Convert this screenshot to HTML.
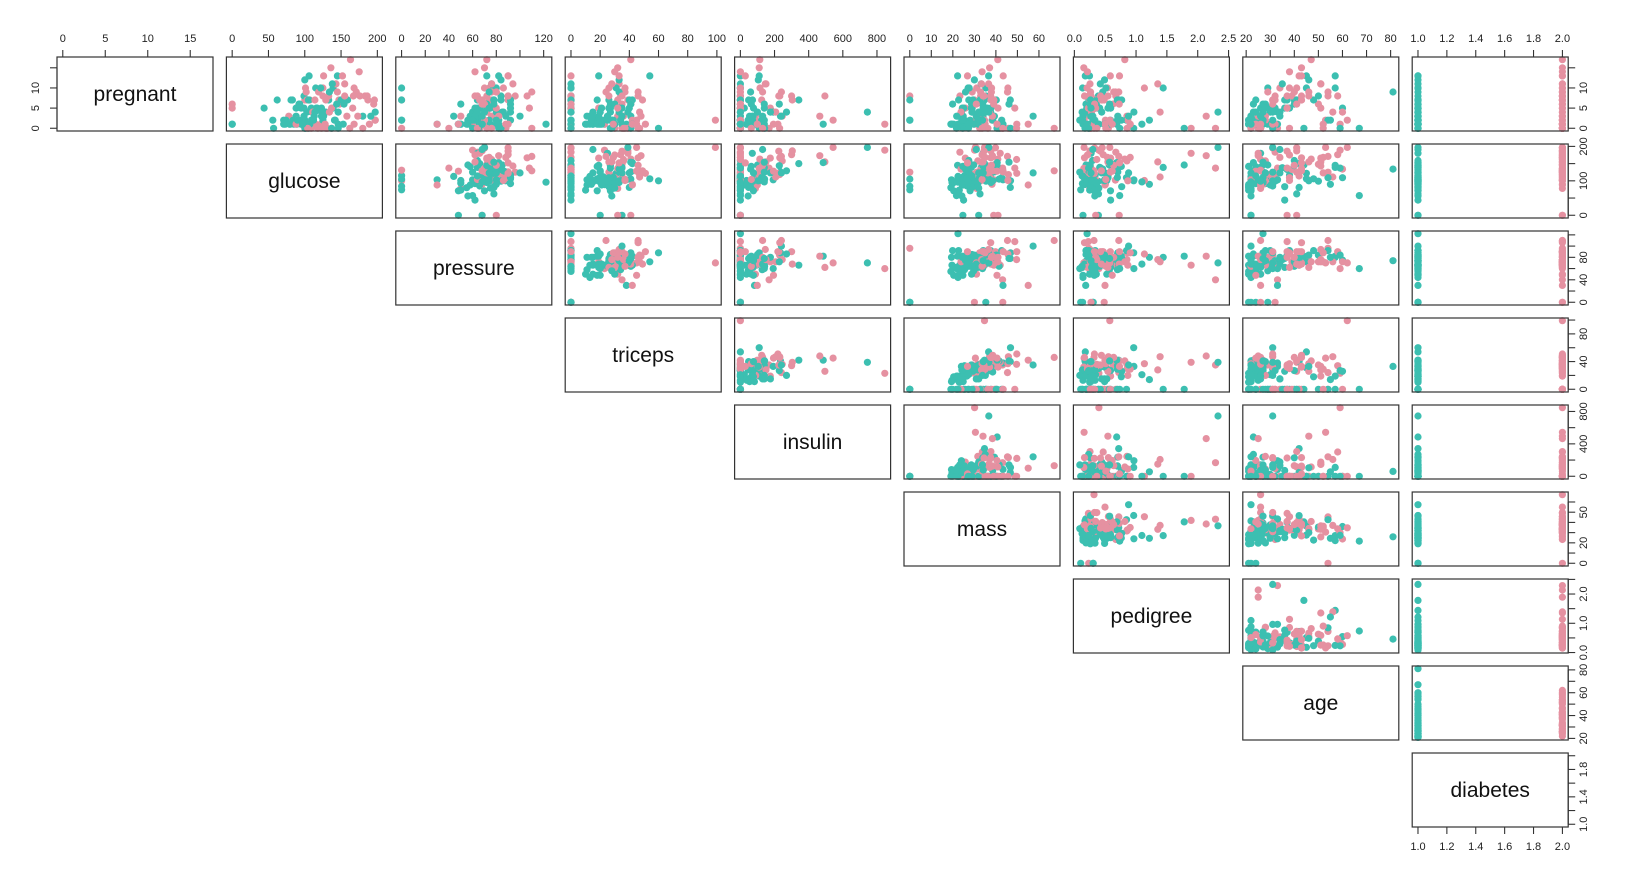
<!DOCTYPE html>
<html><head><meta charset="utf-8"><style>
html,body{margin:0;padding:0;background:#fff;}
svg{display:block;font-family:"Liberation Sans",Arial,sans-serif;}
</style></head><body>
<svg id="chart" width="1626" height="884" viewBox="0 0 1626 884" xmlns="http://www.w3.org/2000/svg"></svg>
<script>
const varNames = ["pregnant","glucose","pressure","triceps","insulin","mass","pedigree","age","diabetes"];
const pregnant = [6,1,8,1,0,5,3,10,2,8,4,10,10,1,5,7,0,7,1,1,3,8,7,9,11,10,7,1,13,5,5,3,3,6,10,4,11,9,2,4,3,7,7,9,7,0,1,2,7,7,1,1,5,8,7,1,7,0,0,0,2,8,5,2,7,5,0,2,1,4,2,5,13,4,1,1,7,5,0,2,3,2,7,0,5,2,13,2,15,1,1,4,7,4,2,6,2,1,6,1,17,2,9,6,0,1,14,8,1,3,0,1,6,12,1,0,5,2,7,2,3,10,0,1,4,11,8,3,9,0,2,1,13,0,1,6,4,5,3,8];
const glucose = [148,85,183,89,137,116,78,115,197,125,110,168,139,189,166,100,118,107,103,115,126,99,196,119,143,125,147,97,145,117,109,158,88,92,122,103,138,102,90,111,180,133,106,171,159,180,146,71,103,105,103,101,88,176,150,73,187,100,146,105,84,133,44,141,114,99,109,109,95,146,100,139,126,129,79,0,62,95,131,112,113,74,83,101,137,110,106,100,136,107,80,123,81,134,142,144,92,71,93,122,163,197,134,0,129,96,175,155,153,173,123,88,195,100,0,57,0,56,129,90,191,101,137,168,197,155,186,99,145,162,125,128,152,104,97,154,114,123,123,167];
const pressure = [72,66,64,66,40,74,50,0,70,96,92,74,80,60,72,0,84,74,30,70,88,84,90,80,94,70,76,66,82,92,75,76,58,92,78,60,76,76,68,72,64,84,92,110,64,66,56,70,66,0,80,50,66,90,66,50,68,88,82,64,0,72,62,58,66,74,88,92,66,85,66,64,90,86,75,48,78,72,0,66,44,0,78,65,108,74,72,68,70,68,55,80,78,72,82,72,62,48,50,90,72,70,74,68,110,122,62,62,82,82,72,30,70,84,68,60,80,56,68,80,68,86,84,88,70,76,90,62,80,76,60,48,90,64,68,78,64,74,100,106];
const triceps = [35,29,0,23,35,0,32,0,45,0,0,0,0,23,19,0,47,0,38,30,41,0,0,35,33,26,0,15,19,0,26,36,11,0,31,33,0,37,42,47,25,0,18,24,0,39,0,27,32,0,11,15,21,34,42,10,39,60,0,41,0,0,0,34,0,27,30,0,13,27,20,35,0,20,30,20,0,33,0,22,13,0,26,28,0,29,54,25,32,19,0,15,40,0,18,27,28,18,30,51,41,99,33,41,46,0,30,26,42,48,0,42,0,33,35,0,32,28,49,14,15,37,27,29,39,28,35,19,46,36,20,45,33,37,21,41,0,40,35,46];
const insulin = [0,0,0,94,168,0,88,0,543,0,0,0,0,846,175,0,230,0,83,96,235,0,0,0,146,115,0,140,110,0,0,245,54,0,0,192,0,0,0,207,70,0,0,240,0,0,0,0,0,0,82,36,23,300,342,0,304,110,0,142,0,0,0,128,0,0,0,0,38,100,90,140,0,270,0,0,0,0,0,0,0,0,71,0,0,125,0,71,110,0,0,176,48,0,64,228,0,76,64,220,114,0,60,0,130,0,0,495,485,465,0,99,0,105,0,0,0,45,125,55,130,0,0,0,744,150,225,74,130,0,140,194,29,64,0,140,0,77,240,231];
const mass = [33.6,26.6,23.3,28.1,43.1,25.6,31.0,35.3,30.5,0,37.6,38.0,27.1,30.1,25.8,30.0,45.8,29.6,43.3,34.6,39.3,35.4,39.8,29.0,36.6,31.1,39.4,23.2,22.2,34.1,36.0,31.6,24.8,19.9,27.6,24.0,33.2,32.9,38.2,37.1,34.0,40.2,22.7,45.4,27.4,42.0,29.7,28.0,39.1,0,19.4,24.2,24.4,33.7,34.7,23.0,37.7,46.8,40.5,41.5,0,32.9,25.0,25.4,32.8,29.0,32.5,42.7,19.6,28.9,32.9,28.6,43.4,35.1,32.0,24.7,32.6,37.7,43.2,25.0,22.4,0,29.3,24.6,48.8,32.4,36.6,38.5,37.1,26.5,19.1,32.0,46.7,23.8,24.7,33.9,31.6,20.4,28.7,49.7,40.9,34.7,25.9,39.0,67.1,22.4,33.6,34.0,40.6,38.4,36.3,55.0,30.9,30.0,32.0,21.7,41.0,24.2,38.5,24.4,30.9,45.6,27.3,35.0,36.7,33.3,34.5,21.8,37.9,49.6,33.8,40.5,26.8,33.6,27.2,46.1,28.9,34.1,57.3,37.6];
const pedigree = [0.627,0.351,0.672,0.167,2.288,0.201,0.248,0.134,0.158,0.232,0.191,0.537,1.441,0.398,0.587,0.484,0.551,0.254,0.183,0.529,0.704,0.388,0.451,0.263,0.254,0.205,0.257,0.487,0.245,0.337,0.546,0.851,0.267,0.188,0.512,0.966,0.420,0.665,0.503,1.390,0.271,0.696,0.235,0.721,0.294,1.893,0.564,0.586,0.344,0.305,0.491,0.526,0.342,0.467,0.718,0.248,0.254,0.962,1.781,0.173,0.304,0.270,0.587,0.699,0.258,0.203,0.855,0.845,0.334,0.189,0.867,0.411,0.583,0.231,0.396,0.140,0.391,0.370,0.270,0.307,0.140,0.102,0.767,0.237,0.227,0.698,0.178,0.324,0.153,0.165,0.258,0.443,0.261,0.277,0.761,0.255,0.130,0.323,0.356,0.325,0.817,0.575,0.460,0.727,0.319,0.207,0.212,0.543,0.687,2.137,0.258,0.496,0.328,0.488,0.389,0.735,0.346,0.332,0.439,1.216,0.299,1.136,0.231,0.905,2.329,1.353,0.423,0.279,0.637,0.364,0.088,0.613,0.731,0.510,1.095,0.571,0.126,0.269,0.880,0.165];
const age = [50,31,32,21,33,30,26,29,53,54,30,34,57,59,51,32,31,31,33,32,27,50,41,29,51,41,43,22,57,38,60,28,22,28,45,33,35,46,27,56,26,37,48,54,40,25,29,22,31,24,22,26,30,58,42,21,41,31,44,22,21,39,36,24,42,32,38,54,25,27,28,26,42,23,22,22,41,27,26,24,22,22,36,22,37,27,45,26,43,24,21,34,42,60,21,40,24,22,23,31,47,62,81,41,26,27,38,46,23,25,52,26,31,46,22,67,37,22,43,55,34,38,59,52,31,51,37,26,40,26,31,24,43,22,22,27,24,28,22,43];
const outcome = [1,0,1,0,1,0,1,0,1,1,0,1,0,1,1,1,1,1,0,1,0,0,1,1,1,1,1,0,0,0,0,1,0,0,0,0,0,1,1,1,0,0,0,1,0,1,0,0,1,0,0,0,0,1,0,0,1,0,0,0,0,1,0,0,1,0,1,0,0,0,1,0,1,0,0,0,0,0,1,0,0,0,0,0,1,0,0,0,1,0,0,0,0,1,0,0,0,0,0,1,1,1,0,1,1,0,1,1,0,1,1,1,1,0,0,0,1,0,1,0,0,1,0,1,0,1,1,0,1,1,0,1,1,1,0,0,0,0,0,1];
// full-dataset value ranges (min, max) per variable
const rangeMin = [0,0,0,0,0,0,0.078,21,1];
const rangeMax = [17,199,122,99,846,67.1,2.42,81,2];
// axis ticks
const ticks = [[0,5,10,15],[0,50,100,150,200],[0,20,40,60,80,100,120],[0,20,40,60,80,100],[0,200,400,600,800],[0,10,20,30,40,50,60],[0,0.5,1,1.5,2,2.5],[20,30,40,50,60,70,80],[1,1.2,1.4,1.6,1.8,2]];
const topLabels = [["0","5","10","15"],["0","50","100","150","200"],["0","20","40","60","80","","120"],["0","20","40","60","80","100"],["0","200","400","600","800"],["0","10","20","30","40","50","60"],["0.0","0.5","1.0","1.5","2.0","2.5"],["20","30","40","50","60","70","80"],["1.0","1.2","1.4","1.6","1.8","2.0"]];
const sideLabels = [["0","5","10",""],["0","","100","","200"],["0","","40","","80","",""],["0","","40","","80",""],["0","","400","","800"],["0","","20","","","50",""],["0.0","","1.0","","2.0",""],["20","","40","","60","","80"],["1.0","","1.4","","1.8",""]];

const NS = "http://www.w3.org/2000/svg";
const svg = document.getElementById("chart");
const X0 = 57, STEPX = 169.4, PW = 156, Y0 = 57, STEPY = 87.0, PH = 74;
const TEAL = "#3cbfb1", PINK = "#e591a1";
const diabetes = outcome.map(o => o + 1);
const cols = [pregnant, glucose, pressure, triceps, insulin, mass, pedigree, age, diabetes];

function mk(tag, attrs, parent) {
  const e = document.createElementNS(NS, tag);
  for (const k in attrs) e.setAttribute(k, attrs[k]);
  (parent || svg).appendChild(e);
  return e;
}
function lo(v) { return rangeMin[v] - 0.04 * (rangeMax[v] - rangeMin[v]); }
function hi(v) { return rangeMax[v] + 0.04 * (rangeMax[v] - rangeMin[v]); }
function sx(v, val, c) { return X0 + c * STEPX + (val - lo(v)) / (hi(v) - lo(v)) * PW; }
function sy(v, val, r) { return Y0 + r * STEPY + PH - (val - lo(v)) / (hi(v) - lo(v)) * PH; }

for (let r = 0; r < 9; r++) {
  for (let c = r; c < 9; c++) {
    const px = X0 + c * STEPX, py = Y0 + r * STEPY;
    const g = mk("g", {});
    
    
    if (r === c) {
      const t = mk("text", {x: px + PW / 2, y: py + PH / 2 + 7, "text-anchor": "middle", "font-size": "21", fill: "#111"}, g);
      t.textContent = varNames[r];
      
      
    } else {
      const xs = cols[c], ys = cols[r];
      for (let i = 0; i < xs.length; i++) {
        const pt = mk("circle", {cx: sx(c, xs[i], c).toFixed(1), cy: sy(r, ys[i], r).toFixed(1), r: 3.6, fill: outcome[i] ? PINK : TEAL}, g);
        
        
      }
    }
    const box = mk("rect", {x: px, y: py, width: PW, height: PH, fill: "none", stroke: "#333", "stroke-width": 1.2}, g);
    
    
  }
}

function axisH(v, c, yLine, dir, labelY, labels, name) {
  const g = mk("g", {stroke: "#333", "stroke-width": 1.1});
  
  
  const tk = ticks[v];
  mk("line", {x1: sx(v, tk[0], c), x2: sx(v, tk[tk.length - 1], c), y1: yLine, y2: yLine}, g);
  tk.forEach((t, i) => {
    const x = sx(v, t, c);
    mk("line", {x1: x, x2: x, y1: yLine, y2: yLine + dir * 7}, g);
    if (labels[i]) {
      const tx = mk("text", {x: x, y: labelY, "text-anchor": "middle", "font-size": "11", fill: "#222", stroke: "none"}, g);
      tx.textContent = labels[i];
      
      
    }
  });
}
function axisV(v, r, xLine, dir, labelX, labels, name) {
  const g = mk("g", {stroke: "#333", "stroke-width": 1.1});
  
  
  const tk = ticks[v];
  mk("line", {y1: sy(v, tk[0], r), y2: sy(v, tk[tk.length - 1], r), x1: xLine, x2: xLine}, g);
  tk.forEach((t, i) => {
    const y = sy(v, t, r);
    mk("line", {y1: y, y2: y, x1: xLine, x2: xLine + dir * 7}, g);
    if (labels[i]) {
      const tx = mk("text", {x: labelX, y: y, "text-anchor": "middle", "font-size": "11", fill: "#222", stroke: "none", transform: "rotate(-90 " + labelX + " " + y + ")"}, g);
      tx.textContent = labels[i];
      
      
    }
  });
}
for (let c = 0; c < 9; c++) axisH(c, c, Y0, -1, 42, topLabels[c], 'top-axis-' + varNames[c]);
axisH(8, 8, Y0 + 8 * STEPY + PH, 1, Y0 + 8 * STEPY + PH + 23, topLabels[8], 'bottom-axis-diabetes');
axisV(0, 0, X0, -1, 39, sideLabels[0], 'left-axis-pregnant');
for (let r = 0; r < 9; r++) axisV(r, r, X0 + 8 * STEPX + PW, 1, X0 + 8 * STEPX + PW + 19, sideLabels[r], 'right-axis-' + varNames[r]);
</script>
</body></html>
